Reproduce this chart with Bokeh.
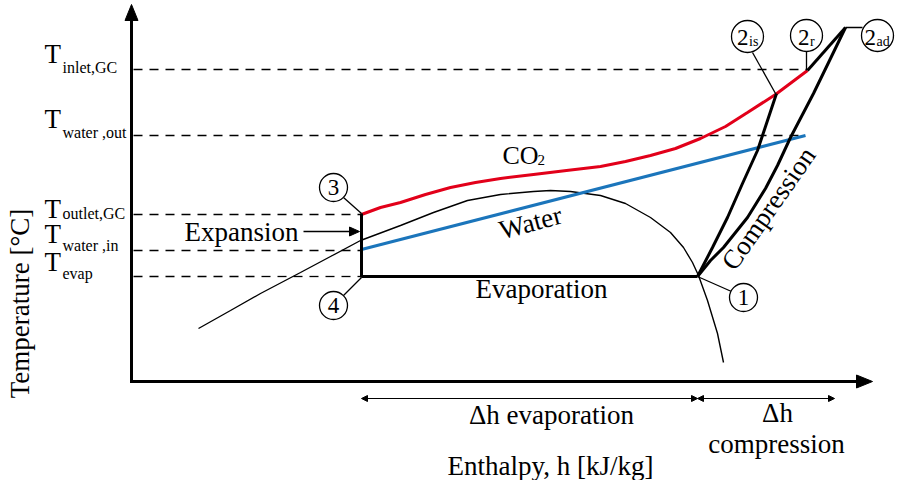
from bokeh.plotting import figure
from bokeh.models import Range1d
from bokeh.core.properties import value
from bokeh.embed import file_html
from bokeh.resources import INLINE
import numpy as np
import math

FONT = "Liberation Serif, serif"

# --- schematic T-h diagram of a transcritical CO2 heat pump cycle ---
# enthalpy runs to the right, temperature upward (arbitrary schematic units)

# CO2 gas-cooler curve (3 -> 2r)
h_co2 = [361, 380, 400, 425, 450, 475, 500, 533, 566, 600, 625, 650, 675, 700, 725, 747, 775, 807]
T_co2 = [266, 273, 278, 286, 293, 298, 302, 306, 310, 314, 319, 325, 332, 342, 354, 368, 386, 410]

# water heated in the gas cooler
h_water = [361, 805]
T_water = [231, 345]

# saturation dome
h_sat = [198, 230, 260, 300, 330, 360, 400, 433, 467, 500, 533, 550, 570, 600, 625, 650, 670, 683, 692, 698, 707, 717, 723]
T_sat = [152, 170, 187, 208, 224, 240, 255, 268, 280, 286, 289, 290, 289, 285, 277, 263, 248, 233, 218, 205, 180, 147, 118]

# compression paths from state 1
h_comp_is = [697, 712, 727, 742, 757, 767, 776]
T_comp_is = [204, 233, 263, 297, 330, 360, 387]
h_comp_ad = [697, 710, 723, 747, 765, 777, 790, 813, 830, 845]
T_comp_ad = [204, 220, 233, 263, 292, 315, 343, 387, 422, 453]
h_link = [807, 845]
T_link = [410, 453]

# evaporation and expansion
h_evap = [361, 697]
T_evap_line = [204, 204]
h_exp = [361, 361]
T_exp = [267, 203]

# reference temperature levels (dashed)
level_names = ["inlet,GC", "water ,out", "outlet,GC", "water ,in", "evap"]
level_T = [411, 345, 266, 230, 204]
level_h_end = [807, 805, 361, 361, 361]

# enthalpy spans
h_evap_span = [361, 697]
h_comp_span = [697, 834]

W, H = 899, 480
p = figure(width=W, height=H, x_range=Range1d(0, W), y_range=Range1d(0, H),
           output_backend="svg", toolbar_location=None, min_border=0,
           x_axis_location=None, y_axis_location=None)
p.grid.visible = False
p.outline_line_color = None

AX_X, AX_Y = 131, 99
AX_TOP, AX_RIGHT = 476, 872

heads_x, heads_y = [], []


def head(x, y, length, half, direction):
    """Triangular arrow head with its tip at (x, y)."""
    if direction == "up":
        heads_x.append([x - half, x + half, x])
        heads_y.append([y - length, y - length, y])
    elif direction == "right":
        heads_x.append([x - length, x - length, x])
        heads_y.append([y - half, y + half, y])
    else:
        heads_x.append([x + length, x + length, x])
        heads_y.append([y - half, y + half, y])


# dashed level lines, built from short segments
DASH, GAP = 9, 7
for T, he in zip(level_T, level_h_end):
    starts = np.arange(AX_X + 2, he, DASH + GAP)
    ends = np.minimum(starts + DASH, he)
    p.segment(x0=starts, y0=[T] * len(starts), x1=ends, y1=[T] * len(starts),
              line_color="black", line_width=1.3)

# saturation dome
p.line(h_sat, T_sat, line_color="black", line_width=1.4)

# water and CO2
p.line(h_water, T_water, line_color="#1b75bb", line_width=3)
p.line(h_co2, T_co2, line_color="#e2001a", line_width=3)

# cycle process lines
for hx, Ty in [(h_evap, T_evap_line), (h_exp, T_exp), (h_comp_is, T_comp_is),
               (h_comp_ad, T_comp_ad), (h_link, T_link)]:
    p.line(hx, Ty, line_color="black", line_width=3)

# axes
p.line([AX_X, AX_X], [AX_Y - 1.5, AX_TOP - 10], line_color="black", line_width=3)
p.line([AX_X - 1.5, AX_RIGHT - 10], [AX_Y, AX_Y], line_color="black", line_width=3)
head(AX_X, AX_TOP, 16, 6.5, "up")
head(AX_RIGHT, AX_Y, 16, 6.5, "right")

# expansion pointer
p.line([303, 352], [249, 249], line_color="black", line_width=1.5)
head(359, 249, 10, 4.5, "right")

# enthalpy span arrows
for h0, h1 in [h_evap_span, h_comp_span]:
    p.line([h0 + 3, h1 - 3], [82, 82], line_color="black", line_width=1)
    head(h0, 82, 6, 3, "left")
    head(h1, 82, 6, 3, "right")

p.patches(heads_x, heads_y, fill_color="black", line_color="black", line_width=1)

# state point callouts
leaders = [((343, 283), (361, 267)), ((342, 184), (361, 203)), ((697, 204), (731, 189)),
           ((752, 428), (775, 387)), ((806, 430), (806, 410)), ((845, 453), (862, 453))]
p.segment(x0=[a[0] for a, b in leaders], y0=[a[1] for a, b in leaders],
          x1=[b[0] for a, b in leaders], y1=[b[1] for a, b in leaders],
          line_color="black", line_width=1.3)

circ_x = [333, 333, 743, 747, 806, 877]
circ_y = [293, 175, 183, 444, 445, 445]
circ_d = [28, 28, 28, 32, 32, 32]
p.scatter(circ_x, circ_y, size=circ_d, marker="circle", fill_color="white",
          line_color="black", line_width=1.3)


def txt(xs, ys, texts, size, **kw):
    p.text(x=xs, y=ys, text=texts, text_font=value(FONT), text_font_size=f"{size}px",
           text_baseline="middle", text_color="black", **kw)


# temperature level labels
txt([44] * 5, [427, 362, 272, 247, 219], ["T"] * 5, 27)
txt([62] * 5, [413, 348, 267, 235, 207], level_names, 16)
txt([19], [177], ["Temperature [\u00b0C]"], 27, text_align="center", angle=math.pi / 2)

# state numbers
txt([333, 333, 743], [293, 175, 183], ["3", "4", "1"], 23, text_align="center")
two_x = [747 - 10.5, 806 - 8.5, 877 - 13]
txt(two_x, [443] * 3, ["2"] * 3, 23)
txt([x + 12 for x in two_x], [439] * 3, ["is", "r", "ad"], 14)

# process labels
txt([502], [325], ["CO"], 26)
txt([537], [321], ["2"], 15)
txt([530], [258], ["Water"], 27, text_align="center", angle=0.26)
txt([541], [192], ["Evaporation"], 27, text_align="center")
txt([298], [249], ["Expansion"], 27, text_align="right")
txt([768], [272], ["Compression"], 27, text_align="center", angle=0.96)

# enthalpy annotations
txt([551, 777, 776, 550], [66, 68, 37, 15],
    ["\u0394h evaporation", "\u0394h", "compression", "Enthalpy, h [kJ/kg]"], 27,
    text_align="center")

open("out.html", "w").write(file_html(p, INLINE))
